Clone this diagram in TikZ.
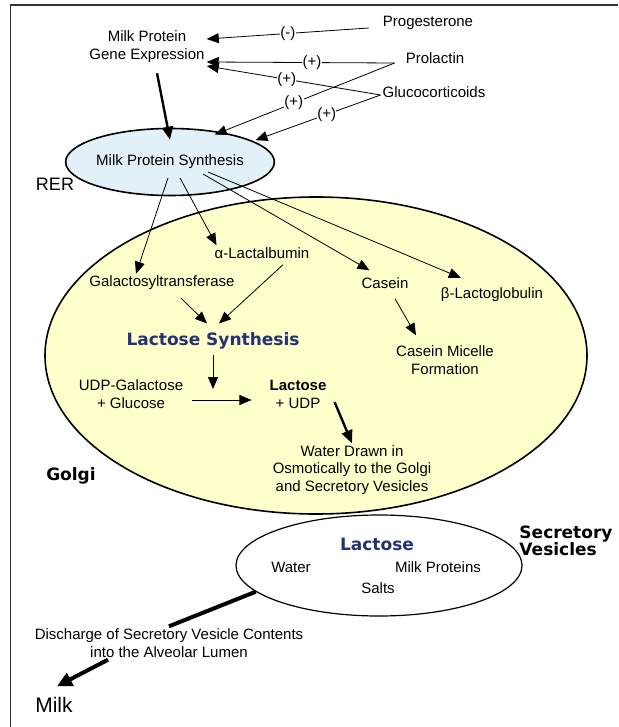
\documentclass[tikz,border=0pt]{standalone}
\usepackage{fontspec}
\setmainfont{Liberation Sans}
\newfontfamily\vfont{DejaVu Sans}
\usetikzlibrary{arrows.meta,shapes.geometric}
\definecolor{rerblue}{RGB}{226,241,247}
\definecolor{golgiyellow}{RGB}{255,255,204}
\definecolor{titleblue}{RGB}{35,50,115}

\begin{document}
\begin{tikzpicture}[x=1pt, y=-1pt,
  every node/.style={font=\fontsize{15}{18}\selectfont, inner sep=2pt, align=center},
  organelle/.style={ellipse, draw, line width=1.6pt, inner sep=0pt},
  big/.style={font=\vfont\bfseries\fontsize{17}{17}\selectfont},
  sign/.style={fill=white, inner sep=0.3pt},
  arr/.style={-{Triangle[length=12pt,width=10pt]}, line width=0.8pt},
  fatarr/.style={-{Triangle[length=13pt,width=11pt]}, line width=2.4pt}]
  \useasboundingbox (0,0) rectangle (618,727);
  \draw[line width=1.5pt, black!80] (10.5,727) -- (10.5,5) -- (618,5);

  % compartments
  \node[organelle, fill=golgiyellow, minimum width=542, minimum height=317] (golgi) at (316,355.5) {};
  \node[organelle, fill=white, line width=1.2pt, minimum width=286, minimum height=101] (vesicle) at (379,565.5) {};
  \node[organelle, fill=rerblue, minimum width=181, minimum height=67] (rer) at (170,162) {Milk Protein Synthesis};
  \node[font=\fontsize{18}{18}\selectfont] (rerlbl) at (55,184) {RER};
  \node[big] (golgilbl) at (71,476) {Golgi};
  \node[big, align=left] (veslbl) at (566,541) {Secretory\\Vesicles};

  % hormones
  \node (gene) at (147,47) {Milk Protein\\Gene Expression};
  \node (prog) at (428,23) {Progesterone};
  \node (prol) at (435,58) {Prolactin};
  \node (gluco) at (434,92) {Glucocorticoids};
  \draw[arr] ([xshift=-12pt,yshift=-5pt]prog.west) -- node[sign, pos=0.5] {(-)} ([yshift=8pt]gene.east);
  \draw[arr] ([xshift=-9pt,yshift=-5pt]prol.west) -- node[sign, pos=0.44] {(+)} ([yshift=-15pt]gene.east);
  \draw[arr] ([yshift=-3pt]gluco.west) -- node[sign, pos=0.54] {(+)} ([yshift=-19pt]gene.east);
  \draw[arr] ([xshift=-9pt,yshift=-5pt]prol.west) -- node[sign, pos=0.56] {(+)} ([xshift=-4pt,yshift=-3pt]rer.32);
  \draw[arr] ([yshift=-3pt]gluco.west) -- node[sign, pos=0.43] {(+)} ([xshift=2pt,yshift=1pt]rer.14);
  \draw[fatarr] ([xshift=10pt,yshift=-8pt]gene.south) -- ([yshift=-12pt]rer.north);

  % golgi contents
  \node (alac) at (262,253) {α-Lactalbumin};
  \node (galt) at (162,283) {Galactosyltransferase};
  \node (casein) at (385,283) {Casein};
  \node (blac) at (492,295) {β-Lactoglobulin};
  \node[big, text=titleblue] (lsyn) at (213,341) {Lactose Synthesis};
  \node (micelle) at (445,360) {Casein Micelle\\Formation};
  \node (udp) at (131,394) {UDP-Galactose\\+ Glucose};
  \node (lac) at (298,394) {\textbf{Lactose}\\+ UDP};
  \node[font=\fontsize{15}{17.5}\selectfont] (water) at (352,470) {Water Drawn in\\Osmotically to the Golgi\\and Secretory Vesicles};
  \coordinate (enz) at (213,389);
  \draw[arr] ([xshift=-2pt,yshift=-16pt]rer.center) -- ([xshift=-26pt]galt.north);
  \draw[arr] ([xshift=10pt,yshift=-16pt]rer.center) -- ([xshift=4pt]alac.north west);
  \draw[arr] ([xshift=33pt,yshift=-12pt]rer.center) -- ([xshift=10pt,yshift=5pt]casein.north west);
  \draw[arr] ([xshift=38pt,yshift=-10pt]rer.center) -- ([xshift=22pt,yshift=8pt]blac.north west);
  \draw[arr] ([xshift=19pt,yshift=-6pt]galt.south) -- ([xshift=-6pt,yshift=7pt]lsyn.north);
  \draw[arr] ([xshift=21pt,yshift=-4pt]alac.south) -- ([xshift=6pt,yshift=7pt]lsyn.north);
  \draw[arr] ([xshift=10pt,yshift=-8pt]casein.south) -- ([xshift=-29pt,yshift=8pt]micelle.north);
  \draw[arr] ([yshift=-4pt]lsyn.south) -- (enz);
  \draw[arr] ([xshift=7pt,yshift=-6pt]udp.east) -- ([xshift=-16pt,yshift=-6pt]lac.west);
  \draw[fatarr] ([xshift=6pt,yshift=-8pt]lac.east) -- (water.north);

  % vesicle contents
  \node[big, text=titleblue] (vlac) at (377,544) {Lactose};
  \node (vwater) at (291,567) {Water};
  \node (vprot) at (438,567) {Milk Proteins};
  \node (salts) at (378,588) {Salts};

  % secretion
  \node (disch) at (169,643) {Discharge of Secretory Vesicle Contents\\into the Alveolar Lumen};
  \node[font=\fontsize{21}{21}\selectfont] (milk) at (54,705) {Milk};
  \draw[line width=4pt] (vesicle.192) -- (disch.north);
  \draw[-{Triangle[length=15pt,width=14pt]}, line width=4pt] ([xshift=-61pt]disch.south) -- ([xshift=3pt,yshift=9pt]milk.north);
\end{tikzpicture}
\end{document}
